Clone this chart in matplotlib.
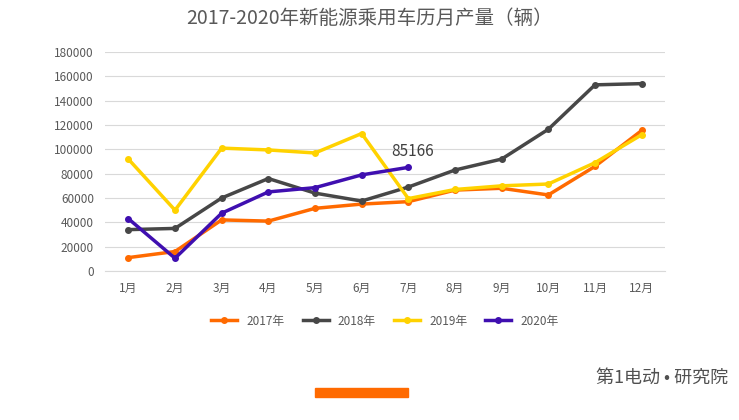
import matplotlib
matplotlib.use("Agg")
import matplotlib.pyplot as plt
from matplotlib import font_manager

# pick a sans CJK family that is actually registered
cjk = sorted({f.name for f in font_manager.fontManager.ttflist if 'Sans CJK' in f.name})
sc = [n for n in cjk if n.endswith('SC')]
plt.rcParams['font.family'] = (sc or cjk)[:1] + ['Noto Sans CJK SC', 'DejaVu Sans']

months = ['1月', '2月', '3月', '4月', '5月', '6月', '7月', '8月', '9月', '10月', '11月', '12月']
sales_2017 = [11000, 16000, 42000, 41000, 51500, 55000, 57000, 66500, 68000, 62500, 86000, 115500]
sales_2018 = [34000, 35000, 60000, 76000, 64000, 57500, 69000, 83000, 92000, 116500, 153000, 154000]
sales_2019 = [92000, 50000, 101000, 99500, 97000, 113000, 59500, 67000, 70000, 71500, 89000, 112000]
sales_2020 = [43000, 10500, 47500, 65000, 68500, 79000, 85166]

series = [
    ('2017年', sales_2017, '#ff6a00'),
    ('2018年', sales_2018, '#474747'),
    ('2019年', sales_2019, '#ffd200'),
    ('2020年', sales_2020, '#3f0fb0'),
]

fig = plt.figure(figsize=(7.39, 4.2), dpi=100)
ax = fig.add_axes([105 / 739, 1 - 271 / 420, 560 / 739, 219 / 420])

x = list(range(len(months)))
for name, vals, color in series:
    ax.plot(x[:len(vals)], vals, color=color, lw=2.5, marker='o', ms=4, label=name)

ax.annotate(str(sales_2020[-1]), (6, sales_2020[-1]), xytext=(-12, 8),
            textcoords='offset points', fontsize=11, color='#404040')

ax.set_xlim(-0.5, 11.5)
ax.set_ylim(0, 180000)
ax.set_yticks(range(0, 180001, 20000))
ax.set_xticks(x)
ax.set_xticklabels(months)
ax.tick_params(length=0, labelsize=8.5, colors='#595959', pad=8)
ax.grid(axis='y', color='#d9d9d9', lw=0.8)
ax.set_axisbelow(True)
for s in ['top', 'right', 'left']:
    ax.spines[s].set_visible(False)
ax.spines['bottom'].set_color('#d9d9d9')

fig.text(0.5, 1 - 18 / 420, '2017-2020年新能源乘用车历月产量（辆）', ha='center', va='center',
         fontsize=14, color='#595959')
fig.legend(loc='center', bbox_to_anchor=(385 / 739, 1 - 321 / 420), ncol=4, frameon=False,
           fontsize=8.5, handlelength=2.2, columnspacing=1.5, labelcolor='#595959')

fig.patches.append(plt.Rectangle((315 / 739, 1 - 397 / 420), 93 / 739, 9 / 420,
                                 transform=fig.transFigure, color='#ff6a00'))
fig.text(0.985, 1 - 378 / 420, '第1电动 • 研究院', ha='right', va='center', fontsize=13, color='#505050')

fig.savefig('out.png', dpi=100)
